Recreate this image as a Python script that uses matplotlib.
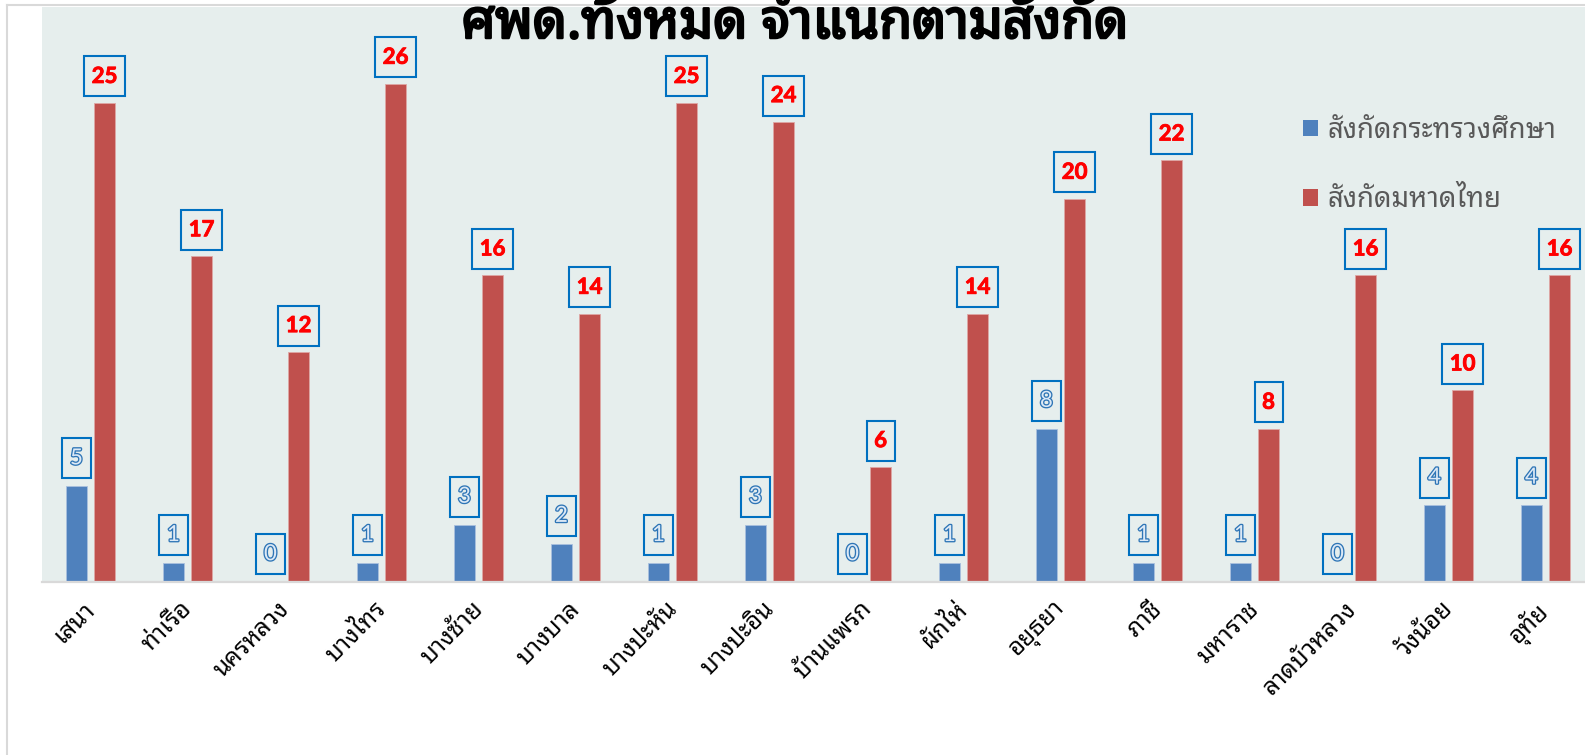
import matplotlib
matplotlib.use('Agg')
import matplotlib.pyplot as plt
from matplotlib import font_manager as fm
from matplotlib.ft2font import FT2Font
from matplotlib.lines import Line2D
from matplotlib.patches import Patch
from matplotlib.path import Path
from matplotlib.transforms import ScaledTranslation
import matplotlib.patheffects as pe
import numpy as np

# ---------------- data ----------------
categories = ['เสนา', 'ท่าเรือ', 'นครหลวง', 'บางไทร', 'บางซ้าย', 'บางบาล', 'บางปะหัน',
              'บางปะอิน', 'บ้านแพรก', 'ผักไห่', 'อยุธยา', 'ภาชี', 'มหาราช', 'ลาดบัวหลวง',
              'วังน้อย', 'อุทัย']
moe_values = [5, 1, 0, 1, 3, 2, 1, 3, 0, 1, 8, 1, 1, 0, 4, 4]
moi_values = [25, 17, 12, 26, 16, 14, 25, 24, 6, 14, 20, 22, 8, 16, 10, 16]
series_names = ['สังกัดกระทรวงศึกษา', 'สังกัดมหาดไทย']
title_text = 'ศพด.ทั้งหมด จำแนกตามสังกัด'

# ---------------- fonts ----------------
def find_thai_font():
    prefer = ['Tahoma', 'Leelawadee UI', 'Leelawadee', 'Noto Sans Thai Looped',
              'Noto Looped Thai', 'Noto Looped Thai UI', 'Loma', 'Garuda', 'Tlwg Typo',
              'Waree', 'Umpush', 'Kinnari', 'Norasi', 'Sarabun', 'TH Sarabun New',
              'Noto Sans Thai', 'Noto Sans Thai UI', 'Noto Serif Thai']
    found = {}
    for f in fm.fontManager.ttflist:
        try:
            cm = FT2Font(f.fname).get_charmap()
        except Exception:
            continue
        if 0x0E01 in cm and 0x0E32 in cm:
            found.setdefault(f.name, f.fname)
    for p in prefer:
        if p in found:
            return p
    return next(iter(found), None)

thai = find_thai_font()
fam = ([thai] if thai else []) + ['DejaVu Sans']
plt.rcParams['font.family'] = fam
num_fam = ['Lato', 'DejaVu Sans']


def rect_box(padx, pady):
    """Rectangular bbox with separate horizontal / vertical padding (pixels)."""
    def style(x0, y0, width, height, mutation_size):
        a0, b0 = x0 - padx, y0 - pady
        a1, b1 = x0 + width + padx, y0 + height + pady
        return Path([(a0, b0), (a1, b0), (a1, b1), (a0, b1), (a0, b0)], closed=True)
    return style


W, H = 1585, 755
fig = plt.figure(figsize=(W / 100, H / 100), dpi=100)
fig.patch.set_facecolor('white')

bg = '#E6EEED'
ax = fig.add_axes([42 / W, (H - 582) / H, (W - 42) / W, (582 - 7) / H])
ax.set_facecolor(bg)

x = np.arange(len(categories))
off = 0.145
bw = 0.225
blue, red = '#4F81BD', '#C0504D'
ax.bar(x - off, moe_values, bw, color=blue, edgecolor='#A9C0DE', linewidth=0.6,
       label=series_names[0], zorder=2)
ax.bar(x + off, moi_values, bw, color=red, edgecolor='#DFA7A5', linewidth=0.6,
       label=series_names[1], zorder=2)

ax.set_xlim(-0.5, -0.5 + (W - 42) / 97.0)
ax.set_ylim(0, 30)
ax.set_yticks([])
for s in ['left', 'right', 'top']:
    ax.spines[s].set_visible(False)
ax.spines['bottom'].set_color('#D9D9D9')
ax.spines['bottom'].set_linewidth(1.6)
ax.set_xticks(x)
ax.set_xticklabels(categories, rotation=45, ha='right', va='top', fontsize=17.5,
                   color='black')
ax.tick_params(axis='x', length=0, pad=11)
shift = ScaledTranslation(10 / 100, 0, fig.dpi_scale_trans)
for lab in ax.get_xticklabels():
    lab.set_transform(lab.get_transform() + shift)

# data labels
for xi, v in zip(x, moe_values):
    ax.annotate(str(v), (xi - off, v), xytext=(0, 20), textcoords='offset points',
                ha='center', va='center', fontsize=16, family=num_fam, color='#DCE9F6',
                path_effects=[pe.withStroke(linewidth=1.9, foreground='#2E75B6')],
                bbox=dict(boxstyle=rect_box(8, 10), fc=bg, ec='#0070C0', lw=1.5),
                zorder=5)
for xi, v in zip(x, moi_values):
    ax.annotate(str(v), (xi + off, v), xytext=(0, 19), textcoords='offset points',
                ha='center', va='center', fontsize=16, family=num_fam, fontweight='bold',
                color='#FF0000',
                path_effects=[pe.withStroke(linewidth=0.6, foreground='#FF0000')],
                bbox=dict(boxstyle=rect_box(7.5, 9.5), fc=bg, ec='#0070C0', lw=1.5),
                zorder=5)

# legend
handles = [Patch(facecolor=blue), Patch(facecolor=red)]
fig.legend(handles, series_names, loc='upper left', bbox_to_anchor=(1303 / W, 1 - 117 / H),
           frameon=False, fontsize=19.8, labelcolor='#595959', handlelength=0.53,
           handleheight=0.53, handletextpad=0.35, labelspacing=1.5, borderpad=0,
           borderaxespad=0)

# outer frame lines
fig.add_artist(Line2D([7 / W, 7 / W], [0, 1 - 5 / H], transform=fig.transFigure,
                      color='#D9D9D9', lw=1.5))
fig.add_artist(Line2D([7 / W, 1], [1 - 5 / H, 1 - 5 / H], transform=fig.transFigure,
                      color='#D9D9D9', lw=1.5))

# title (its top runs off the figure edge, as in the reference)
fig.text(795 / W, 1 - 38 / H, title_text, ha='center', va='baseline', fontsize=38.5,
         fontweight='bold', color='black', zorder=10,
         path_effects=[pe.withStroke(linewidth=1.8, foreground='black')])

fig.savefig('out.png', dpi=100, facecolor='white')
